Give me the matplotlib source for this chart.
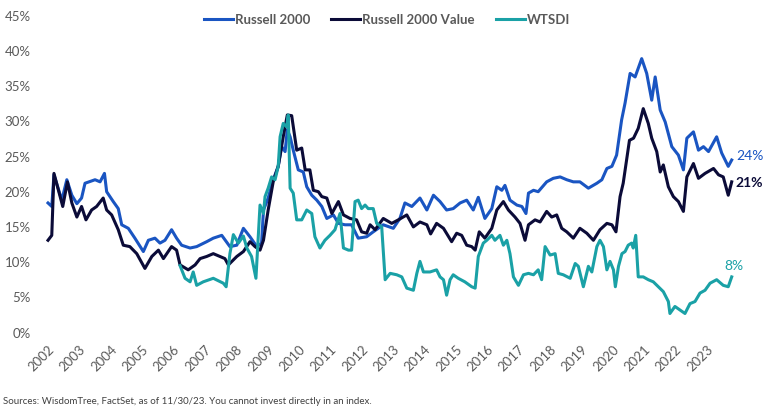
import matplotlib
matplotlib.use("Agg")
import matplotlib.pyplot as plt

# ---------------- data ----------------
r2000_dates = [2002.00, 2002.12, 2002.19, 2002.44, 2002.60, 2002.76, 2002.92, 2003.07, 2003.18, 2003.50,
               2003.66, 2003.80, 2003.87, 2004.08, 2004.24, 2004.35, 2004.56, 2004.77, 2005.04, 2005.20,
               2005.41, 2005.57, 2005.73, 2005.94, 2006.10, 2006.26, 2006.53, 2006.74, 2007.06, 2007.27,
               2007.54, 2007.80, 2008.02, 2008.23, 2008.44, 2008.66, 2008.81, 2008.87, 2009.02, 2009.18,
               2009.34, 2009.45, 2009.56, 2009.63, 2009.72, 2009.82, 2009.98, 2010.14, 2010.25, 2010.41,
               2010.57, 2010.73, 2010.89, 2011.10, 2011.26, 2011.47, 2011.68, 2011.89, 2012.16, 2012.37,
               2012.69, 2013.01, 2013.22, 2013.38, 2013.60, 2013.86, 2014.08, 2014.29, 2014.50, 2014.71,
               2014.92, 2015.14, 2015.35, 2015.56, 2015.72, 2015.93, 2016.15, 2016.31, 2016.47, 2016.57,
               2016.73, 2016.95, 2017.11, 2017.24, 2017.32, 2017.48, 2017.63, 2017.90, 2018.11, 2018.33,
               2018.54, 2018.75, 2018.96, 2019.23, 2019.50, 2019.66, 2019.82, 2019.98, 2020.13, 2020.29,
               2020.40, 2020.56, 2020.72, 2020.93, 2021.09, 2021.25, 2021.36, 2021.52, 2021.68, 2021.89,
               2022.10, 2022.26, 2022.37, 2022.58, 2022.74, 2022.90, 2023.06, 2023.32, 2023.48, 2023.69,
               2023.80]
r2000_vals = [18.4, 17.9, 22.4, 18.8, 21.7, 19.5, 18.3, 19.1, 21.2, 21.7,
              21.4, 22.6, 20.0, 18.6, 17.6, 15.3, 14.8, 13.4, 11.5, 13.1,
              13.4, 12.7, 13.1, 14.6, 13.4, 12.4, 12.0, 12.2, 12.9, 13.4,
              13.8, 12.2, 12.4, 14.8, 13.6, 12.2, 12.7, 17.4, 19.1, 21.7,
              23.6, 26.4, 25.7, 28.8, 27.8, 25.9, 23.1, 22.8, 20.7, 19.5,
              18.8, 17.9, 16.2, 16.7, 15.5, 15.3, 15.3, 13.4, 13.6, 14.3,
              15.3, 14.8, 16.2, 18.4, 17.9, 19.1, 17.4, 19.5, 18.6, 17.4,
              17.6, 18.4, 18.8, 17.4, 19.2, 16.2, 17.6, 20.7, 20.2, 20.9,
              18.8, 18.1, 17.9, 16.9, 19.8, 20.2, 20.0, 21.4, 21.9, 22.1,
              21.7, 21.4, 21.4, 20.5, 21.2, 21.7, 23.3, 23.6, 25.2, 30.2,
              32.6, 36.8, 36.3, 38.9, 36.8, 33.0, 36.3, 31.6, 29.9, 26.4,
              25.2, 23.1, 27.6, 28.5, 25.9, 26.4, 25.7, 27.8, 25.5, 23.6,
              24.5]

r2000v_dates = [2002.00, 2002.12, 2002.19, 2002.47, 2002.62, 2002.76, 2002.92, 2003.07, 2003.21, 2003.39,
                2003.55, 2003.76, 2003.87, 2004.03, 2004.24, 2004.40, 2004.61, 2004.83, 2005.09, 2005.31,
                2005.52, 2005.68, 2005.94, 2006.10, 2006.21, 2006.47, 2006.69, 2006.85, 2007.06, 2007.27,
                2007.48, 2007.64, 2007.75, 2007.91, 2008.02, 2008.23, 2008.44, 2008.60, 2008.76, 2008.87,
                2009.02, 2009.18, 2009.34, 2009.50, 2009.63, 2009.77, 2009.93, 2010.09, 2010.20, 2010.35,
                2010.46, 2010.62, 2010.73, 2010.89, 2011.05, 2011.26, 2011.42, 2011.63, 2011.84, 2012.00,
                2012.16, 2012.27, 2012.43, 2012.69, 2012.96, 2013.17, 2013.44, 2013.65, 2013.86, 2014.08,
                2014.20, 2014.39, 2014.61, 2014.87, 2015.03, 2015.19, 2015.35, 2015.51, 2015.62, 2015.75,
                2015.93, 2016.15, 2016.31, 2016.52, 2016.68, 2016.89, 2017.05, 2017.21, 2017.32, 2017.53,
                2017.69, 2017.90, 2018.06, 2018.22, 2018.38, 2018.54, 2018.75, 2018.96, 2019.18, 2019.39,
                2019.60, 2019.82, 2019.98, 2020.11, 2020.24, 2020.34, 2020.54, 2020.67, 2020.82, 2020.98,
                2021.14, 2021.25, 2021.41, 2021.52, 2021.62, 2021.78, 2021.94, 2022.10, 2022.26, 2022.37,
                2022.58, 2022.74, 2022.95, 2023.22, 2023.38, 2023.53, 2023.69, 2023.80]
r2000v_vals = [13.1, 13.8, 22.6, 17.9, 21.4, 18.4, 16.4, 17.9, 16.0, 17.4,
               17.9, 19.1, 17.4, 16.7, 14.6, 12.4, 12.2, 11.2, 9.1, 10.8,
               11.7, 10.5, 12.2, 11.7, 9.6, 8.9, 9.6, 10.5, 10.8, 11.2,
               10.8, 10.5, 9.6, 10.3, 10.8, 11.5, 12.9, 12.2, 11.7, 13.1,
               17.4, 21.4, 23.6, 27.8, 30.9, 30.8, 25.9, 26.2, 23.1, 23.1,
               20.2, 20.0, 19.3, 19.1, 16.9, 18.6, 16.7, 16.2, 16.0, 14.3,
               14.1, 15.3, 14.6, 16.2, 15.5, 16.0, 16.7, 15.0, 15.7, 15.3,
               14.0, 15.5, 14.8, 12.9, 14.1, 13.8, 12.4, 12.2, 11.7, 14.3,
               13.4, 14.8, 17.4, 18.6, 17.4, 16.4, 15.5, 13.1, 15.3, 16.0,
               15.7, 17.2, 16.4, 16.7, 14.8, 14.3, 13.4, 14.8, 14.1, 13.1,
               14.6, 15.5, 15.3, 14.3, 19.3, 21.2, 27.3, 27.6, 29.0, 31.8,
               29.7, 27.6, 25.7, 22.8, 23.8, 20.7, 19.3, 18.6, 17.2, 22.1,
               24.0, 21.9, 22.6, 23.3, 22.4, 22.1, 19.5, 21.4]

wtsdi_dates = [2006.21, 2006.37, 2006.53, 2006.63, 2006.74, 2006.95, 2007.27, 2007.59, 2007.68, 2007.80,
               2007.91, 2008.07, 2008.23, 2008.34, 2008.49, 2008.63, 2008.76, 2008.87, 2008.92, 2009.02,
               2009.13, 2009.24, 2009.34, 2009.40, 2009.50, 2009.61, 2009.66, 2009.72, 2009.82, 2009.93,
               2010.09, 2010.25, 2010.41, 2010.51, 2010.67, 2010.83, 2010.99, 2011.15, 2011.31, 2011.42,
               2011.58, 2011.68, 2011.79, 2011.89, 2012.00, 2012.11, 2012.21, 2012.37, 2012.48, 2012.64,
               2012.75, 2012.91, 2013.12, 2013.28, 2013.44, 2013.65, 2013.76, 2013.86, 2013.97, 2014.18,
               2014.39, 2014.50, 2014.61, 2014.71, 2014.82, 2014.92, 2015.08, 2015.29, 2015.51, 2015.62,
               2015.72, 2015.88, 2015.99, 2016.15, 2016.25, 2016.41, 2016.52, 2016.63, 2016.73, 2016.84,
               2017.00, 2017.16, 2017.32, 2017.48, 2017.63, 2017.74, 2017.85, 2018.01, 2018.17, 2018.27,
               2018.43, 2018.65, 2018.81, 2018.91, 2019.07, 2019.23, 2019.34, 2019.50, 2019.60, 2019.71,
               2019.82, 2019.92, 2020.03, 2020.09, 2020.19, 2020.30, 2020.40, 2020.50, 2020.61, 2020.66,
               2020.74, 2020.82, 2020.98, 2021.14, 2021.30, 2021.46, 2021.62, 2021.78, 2021.83, 2021.99,
               2022.15, 2022.31, 2022.47, 2022.63, 2022.79, 2022.95, 2023.11, 2023.32, 2023.53, 2023.69,
               2023.80]
wtsdi_vals = [9.5, 7.7, 7.2, 8.6, 6.7, 7.2, 7.7, 7.0, 6.5, 11.2,
              13.9, 12.7, 13.7, 12.0, 10.8, 7.7, 18.1, 16.9, 19.3, 20.5,
              22.1, 21.7, 23.6, 27.8, 29.7, 29.2, 30.9, 20.5, 19.8, 16.0,
              16.0, 17.4, 16.9, 13.6, 12.0, 13.1, 13.8, 14.6, 16.9, 12.0,
              11.7, 11.7, 18.6, 18.8, 17.6, 18.1, 17.6, 17.6, 15.5, 15.0,
              7.5, 8.4, 8.2, 7.9, 6.3, 6.0, 8.4, 10.1, 8.6, 8.6,
              8.9, 7.9, 7.5, 5.3, 7.5, 8.2, 7.7, 7.2, 6.5, 6.3,
              10.8, 12.7, 13.1, 13.8, 13.1, 13.8, 12.4, 13.1, 11.2, 7.9,
              6.7, 8.2, 8.4, 8.2, 8.9, 7.5, 12.2, 11.0, 11.2, 8.4,
              8.2, 7.7, 9.8, 9.4, 6.5, 9.4, 8.6, 12.2, 13.1, 12.2,
              8.9, 10.1, 8.9, 6.5, 9.4, 11.2, 11.5, 12.4, 12.7, 12.0,
              13.8, 7.9, 7.9, 7.5, 7.2, 6.5, 5.8, 4.4, 2.7, 3.7,
              3.2, 2.7, 4.1, 4.4, 5.6, 6.0, 7.0, 7.5, 6.7, 6.5,
              7.9]

series_names = ["Russell 2000", "Russell 2000 Value", "WTSDI"]
end_labels = ["24%", "21%", "8%"]
year_ticks = list(range(2002, 2024))
y_ticks = [0, 5, 10, 15, 20, 25, 30, 35, 40, 45]

# ---------------- style ----------------
C_BLUE = "#1a55c2"
C_NAVY = "#0b0b38"
C_TEAL = "#1aa1a6"
C_GRAY = "#595959"
plt.rcParams["font.family"] = ["Lato", "DejaVu Sans"]

W, H = 768, 419
fig = plt.figure(figsize=(W / 100, H / 100), dpi=100)
ax_left, ax_right = 46, 736
ax_top, ax_bot = 15.7, 332.5
ax = fig.add_axes([ax_left / W, 1 - ax_bot / H, (ax_right - ax_left) / W, (ax_bot - ax_top) / H])

lw = 2.2
l1, = ax.plot(r2000_dates, r2000_vals, color=C_BLUE, lw=lw, solid_joinstyle="round")
l2, = ax.plot(r2000v_dates, r2000v_vals, color=C_NAVY, lw=lw, solid_joinstyle="round")
l3, = ax.plot(wtsdi_dates, wtsdi_vals, color=C_TEAL, lw=lw, solid_joinstyle="round")

ax.set_ylim(0, 45)
ax.set_xlim(2001.936, 2023.937)
ax.set_yticks(y_ticks)
ax.set_yticklabels([f"{v}%" for v in y_ticks])
ax.set_xticks(year_ticks)
ax.set_xticklabels([str(y) for y in year_ticks], rotation=45, ha="right", va="top",
                   rotation_mode="anchor")
ax.tick_params(axis="both", length=0, labelcolor=C_GRAY, labelsize=9.5)
ax.tick_params(axis="y", pad=11)
ax.tick_params(axis="x", pad=8)
for s in ax.spines.values():
    s.set_visible(False)

# end labels
ax.annotate(end_labels[0], (r2000_dates[-1], r2000_vals[-1]), xytext=(3, 3), textcoords="offset points",
            color=C_BLUE, fontsize=10, va="center", ha="left")
ax.annotate(end_labels[1], (r2000v_dates[-1], r2000v_vals[-1]), xytext=(3, -1), textcoords="offset points",
            color=C_NAVY, fontsize=10, fontweight="bold", va="center", ha="left")
ax.annotate(end_labels[2], (wtsdi_dates[-1], wtsdi_vals[-1]), xytext=(-5, 8), textcoords="offset points",
            color=C_TEAL, fontsize=10, va="center", ha="left")

fig.legend([l1, l2, l3], series_names, loc="center", bbox_to_anchor=(387 / W, 1 - 20 / H), ncol=3,
           frameon=False, handlelength=2.2, handletextpad=0.15, columnspacing=1.6,
           prop={"weight": "bold", "size": 9.5}, labelcolor=C_GRAY)

fig.text(3 / W, 1 - 401 / H, "Sources: WisdomTree, FactSet, as of 11/30/23. You cannot invest directly in an index.",
         fontsize=7, color="#404040", va="center", ha="left")

fig.savefig("out.png", dpi=100)
